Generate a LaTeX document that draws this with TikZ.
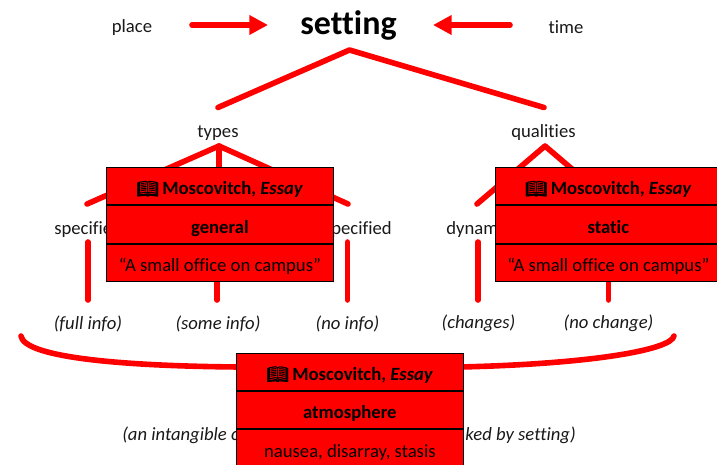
\documentclass[tikz,border=0pt]{standalone}
\usepackage{fontspec}
\setmainfont[Ligatures=NoCommon]{Carlito}
\newfontfamily\iconfont[FakeBold=1.5,Scale=0.95]{Noto Emoji}
\usetikzlibrary{arrows.meta}
\tikzset{
  x=0.75pt,y=-0.75pt,
  redline/.style={draw=red,line width=4.2pt,line cap=round,line join=round},
  arrowline/.style={redline,-{Triangle[length=14pt,width=14pt,line cap=butt]}},
  label/.style={inner sep=0pt,font=\fontsize{14}{16}\selectfont,text=black!90},
  note/.style={label,font=\fontsize{14}{16}\selectfont\itshape},
  cardbox/.style={draw=black,line width=0.8pt,fill=red,minimum width=170pt,minimum height=28pt,inner sep=0pt,text height=13.8pt,text depth=1pt,font=\fontsize{14}{16}\selectfont,text=black},
}
\newcommand{\srcline}{{\iconfont\symbol{"1F4D6}}\hspace{2.5pt}\textbf{Moscovitch, \textit{Essay}}}
\begin{document}
\begin{tikzpicture}
\useasboundingbox (0,0) rectangle (717,464);
\clip (0,0) rectangle (717,464);
\node[inner sep=0pt,font=\fontsize{25.5}{30}\selectfont\bfseries] (setting) at (348.5,25.5) {setting};
\node[label] (place) at (132,27.5) {place};
\node[label] (time) at (566,27.5) {time};
\coordinate (pl) at (192,25); \coordinate (plt) at (268,25);
\coordinate (tm) at (510,25); \coordinate (tmt) at (433,25);
\draw[arrowline] (pl) -- (plt);
\draw[arrowline] (tm) -- (tmt);
\coordinate (top) at (349.5,50);
\coordinate (tl) at (218,107.5);
\coordinate (tr) at (544,107.5);
\draw[redline] (tl) -- (top) -- (tr);
\node[label] (types) at (218,133) {types};
\node[label] (qualities) at (543.5,133) {qualities};
% types tree
\coordinate (ta) at (219,146);
\coordinate (tal) at (87,204);
\coordinate (tam) at (219,210);
\coordinate (tar) at (348,204);
\draw[redline] (tal) -- (ta) -- (tar);
\draw[redline] (ta) -- (tam);
\node[label,anchor=west] (spec) at (54,229.5) {specified};
\node[label,anchor=east] (unspec) at (392,229.5) {unspecified};
\coordinate (v1a) at (88,242); \coordinate (v1b) at (88,300);
\coordinate (v2a) at (217,250); \coordinate (v2b) at (217,300);
\coordinate (v3a) at (347.5,242); \coordinate (v3b) at (347.5,300);
\draw[redline] (v1a) -- (v1b);
\draw[redline] (v2a) -- (v2b);
\draw[redline] (v3a) -- (v3b);
\node[note] (n1) at (88,323.5) {(full info)};
\node[note] (n2) at (218,323.5) {(some info)};
\node[note] (n3) at (347.5,323.5) {(no info)};
% qualities tree
\coordinate (qa) at (545,146);
\coordinate (qal) at (477,204);
\coordinate (qar) at (613,204);
\draw[redline] (qal) -- (qa) -- (qar);
\node[label,anchor=west] (dyn) at (446,229.5) {dynamic};
\coordinate (v4a) at (478,242); \coordinate (v4b) at (478,300);
\coordinate (v5a) at (608.5,250); \coordinate (v5b) at (608.5,300);
\draw[redline] (v4a) -- (v4b);
\draw[redline] (v5a) -- (v5b);
\node[note] (n4) at (478.5,323.5) {(changes)};
\node[note] (n5) at (608.5,323.5) {(no change)};
% brace
\coordinate (bl) at (21,336); \coordinate (bm) at (240,367);
\coordinate (br) at (674,336); \coordinate (bn) at (460,367);
\draw[redline] (bl) .. controls (24,356) and (110,366) .. (bm);
\draw[redline] (br) .. controls (671,350) and (590,364) .. (bn);
\node[note,anchor=west] (atm1) at (122,435.5) {(an intangible c};
\node[note,anchor=east] (atm2) at (576,435.5) {ked by setting)};
% cards
\node[cardbox,anchor=north west] (a1) at (106,167) {\srcline};
\node[cardbox,anchor=north] (a2) at (a1.south) {\textbf{general}};
\node[cardbox,anchor=north] (a3) at (a2.south) {“A small office on campus”};
\node[cardbox,anchor=north west] (b1) at (494.5,167) {\srcline};
\node[cardbox,anchor=north] (b2) at (b1.south) {\textbf{static}};
\node[cardbox,anchor=north] (b3) at (b2.south) {“A small office on campus”};
\node[cardbox,anchor=north west] (c1) at (236,352.5) {\srcline};
\node[cardbox,anchor=north] (c2) at (c1.south) {\textbf{atmosphere}};
\node[cardbox,anchor=north] (c3) at (c2.south) {nausea, disarray, stasis};
\end{tikzpicture}
\end{document}
